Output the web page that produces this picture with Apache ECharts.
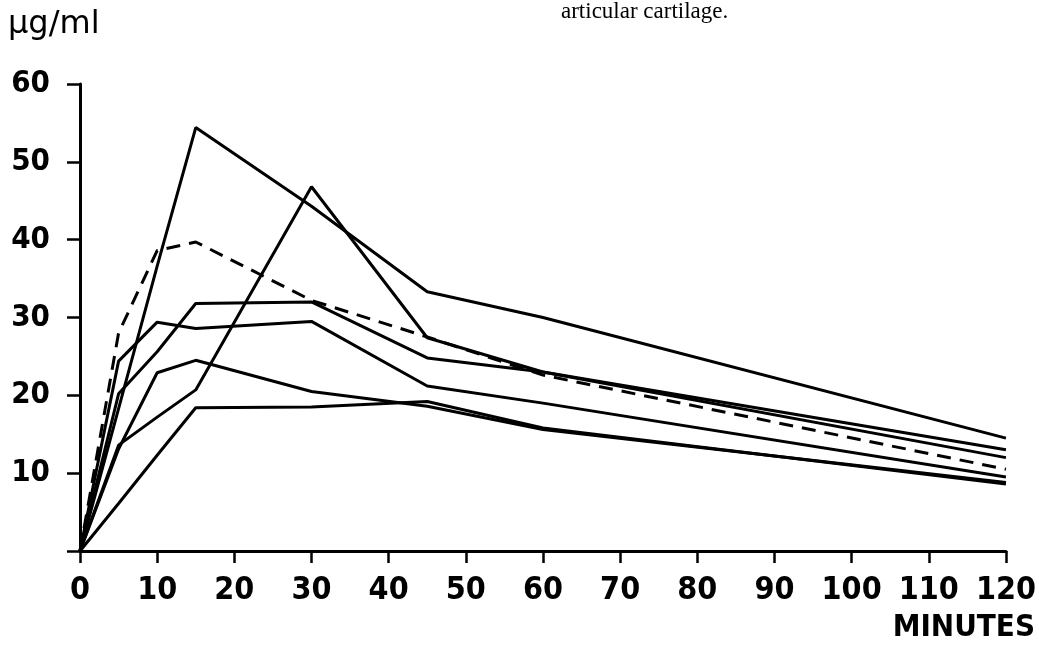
<!DOCTYPE html>
<html>
<head>
<meta charset="utf-8">
<script src="https://cdn.jsdelivr.net/npm/echarts@6/dist/echarts.min.js"></script>
<style>html,body{margin:0;padding:0;background:#fff}#c{width:1039px;height:652px}</style>
</head>
<body>
<div id="c"></div>
<script>
const times = [0, 5, 10, 15, 30, 45, 60, 120];
const xTicks = [0,10,20,30,40,50,60,70,80,90,100,110,120];
const yTicks = [10,20,30,40,50,60];
const seriesA = [0, 18.3, 36.6, 54.4, 44.3, 33.3, 30.0, 14.5];
const seriesB = [0, 13.6, 17.2, 20.7, 46.8, 27.4, 23.0, 13.0];
const seriesC = [0, 20.2, 25.6, 31.8, 32.0, 24.8, 23.0, 12.0];
const seriesD = [0, 24.4, 29.4, 28.6, 29.5, 21.2, 19.0, 9.5];
const seriesE = [0, 13.1, 22.9, 24.5, 20.5, 18.6, 15.6, 8.8];
const seriesF = [0, 6.1, 12.3, 18.4, 18.5, 19.2, 15.8, 8.6];
const seriesMean = [0, 28.0, 38.6, 39.7, 32.2, 27.5, 22.6, 10.5];

const solid = [seriesA, seriesB, seriesC, seriesD, seriesE, seriesF];
const labelFont = "'DejaVu Sans Condensed', 'DejaVu Sans', sans-serif";

function pairs(vals){ return times.map((t,i)=>[t, vals[i]]); }

const series = solid.map((v, i) => ({
  type: 'line', name: 'S' + (i+1), data: pairs(v), symbol: 'none',
  lineStyle: {color: '#000', width: 3}, silent: true
}));
series.push({
  type: 'line', name: 'Mean', data: pairs(seriesMean), symbol: 'none',
  lineStyle: {color: '#000', width: 3, type: [14, 9]}, silent: true
});

const chart = echarts.init(document.getElementById('c'), null, {renderer: 'canvas'});
chart.setOption({
  animation: false,
  backgroundColor: '#fff',
  grid: {left: 80, right: 31, top: 84, bottom: 101, containLabel: false},
  xAxis: {
    type: 'value', min: 0, max: 120, interval: 10,
    axisLine: {show: true, lineStyle: {color: '#000', width: 3}},
    axisTick: {show: true, length: 12, lineStyle: {color: '#000', width: 2.5}},
    axisLabel: {color: '#000', fontFamily: labelFont, fontWeight: 'bold', fontSize: 32, margin: 24,
      formatter: v => xTicks.includes(v) ? String(v) : ''},
    splitLine: {show: false}
  },
  yAxis: {
    type: 'value', min: 0, max: 60, interval: 10,
    axisLine: {show: true, lineStyle: {color: '#000', width: 3}},
    axisTick: {show: true, length: 13, lineStyle: {color: '#000', width: 2.5}},
    axisLabel: {color: '#000', fontFamily: labelFont, fontWeight: 'bold', fontSize: 31, margin: 30,
      formatter: v => yTicks.includes(v) ? String(v) : ''},
    splitLine: {show: false}
  },
  graphic: [
    {type: 'text', left: 8, top: 9, style: {text: 'µg/ml', fill: '#000', font: "32px 'DejaVu Sans', sans-serif"}},
    {type: 'text', right: 4, top: 612, style: {text: 'MINUTES', fill: '#000', font: "bold 31px " + labelFont}},
    {type: 'text', left: 561, top: 0, style: {text: 'articular cartilage.', fill: '#000', font: "23px 'Liberation Serif', 'DejaVu Serif', serif"}}
  ],
  series: series
});
</script>
</body>
</html>
